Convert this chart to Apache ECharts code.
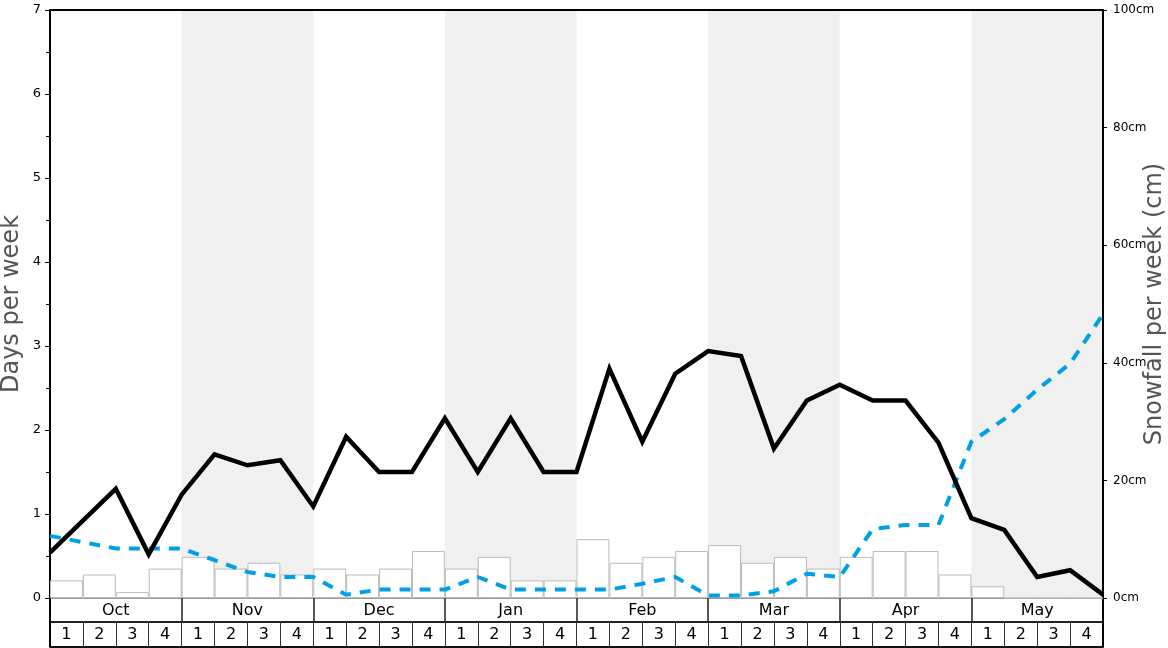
<!DOCTYPE html>
<html>
<head>
<meta charset="utf-8">
<script src="https://cdn.jsdelivr.net/npm/echarts@6/dist/echarts.min.js"></script>
<style>
html,body{margin:0;padding:0;background:#fff;}
#chart{width:1168px;height:648px;}
</style>
</head>
<body>
<div id="chart"></div>
<script>
const months = ['Oct','Nov','Dec','Jan','Feb','Mar','Apr','May'];
const weekNumbers = ['1','2','3','4'];
// snowfall per week (cm), one per week
const snowfallCm = [3,4,1,5, 7,5,6,4, 5,4,5,8, 5,7,3,3, 10,6,7,8, 9,6,7,5, 7,8,8,4, 2,0,0,0];
// days per week, sampled at week boundaries (33 points)
const snowDays = [0.54,0.92,1.30,0.52,1.23,1.71,1.58,1.64,1.09,1.92,1.50,1.50,2.14,1.50,2.14,1.50,1.50,2.73,1.86,2.67,2.94,2.88,1.78,2.35,2.54,2.35,2.35,1.85,0.95,0.81,0.25,0.33,0.04];
const rainDays = [0.74,0.665,0.59,0.59,0.59,0.45,0.31,0.25,0.25,0.04,0.10,0.10,0.10,0.25,0.10,0.10,0.10,0.10,0.17,0.25,0.03,0.03,0.08,0.29,0.25,0.82,0.87,0.87,1.86,2.13,2.48,2.79,3.38];
const daysTicks = {min:0, max:7, interval:1};
const cmTicks = {min:0, max:100, interval:20};

const weekCats = [];
months.forEach(m => weekNumbers.forEach(w => weekCats.push(m + '|' + w)));

const chart = echarts.init(document.getElementById('chart'), null, {renderer:'canvas'});
chart.setOption({
  animation:false,
  textStyle:{fontFamily:'DejaVu Sans'},
  grid:{left:50, right:65, top:10, bottom:50, containLabel:false, outerBoundsMode:'none'},
  xAxis:[
    {type:'value', min:0, max:weekCats.length, show:false},
    {type:'category', data:months, position:'bottom', offset:0,
      axisLine:{show:true, lineStyle:{color:'#999', width:1}},
      axisTick:{show:true, length:24, interval:0, lineStyle:{color:'#222', width:1.5}},
      axisLabel:{show:true, interval:0, fontSize:16, color:'#000', margin:5},
      splitArea:{show:true, interval:0, areaStyle:{color:['rgba(255,255,255,0)','#f0f0f0']}},
      splitLine:{show:false}},
    {type:'category', data:weekCats, position:'bottom', offset:24,
      axisLine:{show:true, lineStyle:{color:'#222', width:2}},
      axisTick:{show:true, length:25, interval:0, lineStyle:{color:'#333', width:1}},
      axisLabel:{show:true, interval:0, fontSize:16, color:'#000', margin:5,
        formatter: v => v.split('|')[1]},
      splitLine:{show:false}},
    {type:'category', data:[''], position:'bottom', offset:49,
      axisLine:{show:true, lineStyle:{color:'#111', width:2}},
      axisTick:{show:true, inside:true, length:49, interval:0, lineStyle:{color:'#000', width:2}},
      axisLabel:{show:false}, splitLine:{show:false}},
    {type:'category', data:[''], position:'top', offset:0,
      axisLine:{show:true, lineStyle:{color:'#000', width:2}},
      axisTick:{show:false}, axisLabel:{show:false}, splitLine:{show:false}}
  ],
  yAxis:[
    {type:'value', position:'left', min:daysTicks.min, max:daysTicks.max, interval:daysTicks.interval,
      name:'Days per week', nameLocation:'middle', nameRotate:90, nameGap:26, nameMoveOverlap:false,
      nameTextStyle:{fontSize:24, color:'#555'},
      axisLine:{show:true, lineStyle:{color:'#000', width:2}},
      axisTick:{show:true, length:5, lineStyle:{color:'#000', width:1}},
      minorTick:{show:true, splitNumber:2, length:4, lineStyle:{color:'#000', width:1}},
      axisLabel:{fontSize:13, color:'#000', margin:9},
      splitLine:{show:false}},
    {type:'value', position:'right', min:cmTicks.min, max:cmTicks.max, interval:cmTicks.interval,
      name:'Snowfall per week (cm)', nameLocation:'middle', nameRotate:90, nameGap:40, nameMoveOverlap:false,
      nameTextStyle:{fontSize:24, color:'#555'},
      axisLine:{show:true, lineStyle:{color:'#000', width:2}},
      axisTick:{show:true, length:4, lineStyle:{color:'#000', width:1}},
      axisLabel:{fontSize:12, color:'#000', margin:10, formatter:'{value}cm'},
      splitLine:{show:false}}
  ],
  series:[
    {type:'bar', name:'Snowfall', xAxisIndex:2, yAxisIndex:1, data:snowfallCm,
      barCategoryGap:'0%', barGap:'0%',
      itemStyle:{color:'#fff', borderColor:'#bbb', borderWidth:1}, z:2},
    {type:'line', name:'Rain days', xAxisIndex:0, yAxisIndex:0,
      data:rainDays.map((v,i)=>[i,v]), symbol:'none',
      lineStyle:{color:'#00a0e9', width:4, type:[11,9]}, z:3},
    {type:'line', name:'Snow days', xAxisIndex:0, yAxisIndex:0,
      data:snowDays.map((v,i)=>[i,v]), symbol:'none',
      lineStyle:{color:'#000', width:4.5, join:'miter'}, z:4}
  ]
});
</script>
</body>
</html>
